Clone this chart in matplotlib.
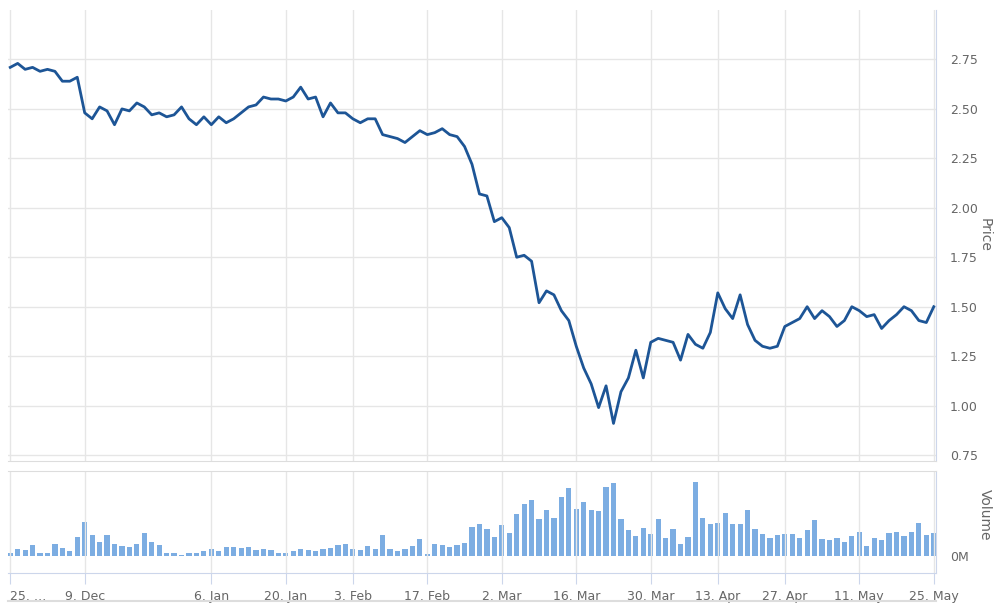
import matplotlib
matplotlib.use("Agg")
import matplotlib.pyplot as plt
import numpy as np

price = [2.71,2.73,2.70,2.71,2.69,2.70,2.69,2.64,2.64,2.66,
         2.48,2.45,2.51,2.49,2.42,2.50,2.49,2.53,2.51,2.47,
         2.48,2.46,2.47,2.51,2.45,2.42,2.46,2.42,2.46,2.43,
         2.45,2.48,2.51,2.52,2.56,2.55,2.55,2.54,2.56,2.61,
         2.55,2.56,2.46,2.53,2.48,2.48,2.45,2.43,2.45,2.45,
         2.37,2.36,2.35,2.33,2.36,2.39,2.37,2.38,2.40,2.37,
         2.36,2.31,2.22,2.07,2.06,1.93,1.95,1.90,1.75,1.76,
         1.73,1.52,1.58,1.56,1.48,1.43,1.30,1.19,1.11,0.99,
         1.10,0.91,1.07,1.14,1.28,1.14,1.32,1.34,1.33,1.32,
         1.23,1.36,1.31,1.29,1.37,1.57,1.49,1.44,1.56,1.41,
         1.33,1.30,1.29,1.30,1.40,1.42,1.44,1.50,1.44,1.48,
         1.45,1.40,1.43,1.50,1.48,1.45,1.46,1.39,1.43,1.46,
         1.50,1.48,1.43,1.42,1.50]
volume = [10,20,18,33,10,10,37,24,14,58,103,63,43,63,37,30,27,37,70,43,
          33,10,10,4,10,10,14,20,14,27,27,24,27,17,20,17,10,10,14,20,
          17,14,20,24,33,37,20,17,30,20,63,20,14,20,30,50,7,37,33,27,
          33,40,87,97,80,
          57,93,70,125,155,168,110,138,115,178,203,142,162,138,135,
          208,218,112,77,60,83,67,112,53,80,37,57,223,115,97,
          100,130,97,97,138,80,67,53,63,67,65,53,77,108,50,
          47,53,43,60,73,30,53,47,70,73,60,73,100,63,70]
tick_idx = [0,10,27,37,46,56,66,76,86,95,104,114,124]
tick_labels = ["25. …","9. Dec","6. Jan","20. Jan","3. Feb","17. Feb","2. Mar",
               "16. Mar","30. Mar","13. Apr","27. Apr","11. May","25. May"]

x = np.arange(len(price))
W, H = 1000, 612
fig = plt.figure(figsize=(10, 6.12), dpi=100)
tc = "#666666"
gc = "#e6e6e6"

def box(l, t, r, b):
    return [l / W, 1 - b / H, (r - l) / W, (b - t) / H]

ax = fig.add_axes(box(8, 10, 936, 461))
ax.plot(x, price, color="#1d5596", lw=2)
ax.set_xlim(-0.3, len(price) - 0.7)
ax.set_ylim(0.72, 3.0)
ax.set_yticks([0.75, 1.0, 1.25, 1.5, 1.75, 2.0, 2.25, 2.5, 2.75])
ax.set_yticklabels(["0.75","1.00","1.25","1.50","1.75","2.00","2.25","2.50","2.75"])
ax.yaxis.tick_right()
ax.tick_params(axis="y", length=0, labelsize=9, labelcolor=tc, pad=10)
ax.set_xticks(tick_idx)
ax.tick_params(axis="x", length=0, labelbottom=False)
ax.grid(True, color=gc, lw=1)
for s in ["top", "left"]:
    ax.spines[s].set_visible(False)
ax.spines["right"].set_color("#ccd6eb")
ax.spines["bottom"].set_color("#dddddd")
fig.text(985 / W, 1 - 235 / H, "Price", rotation=270, ha="center", va="center",
         color=tc, fontsize=10)

vx = fig.add_axes(box(8, 471, 936, 573))
vx.bar(x, volume, width=0.7, color="#7cade2")
vx.set_xlim(-0.3, len(price) - 0.7)
vx.set_ylim(-51, 255)
vx.set_yticks([0])
vx.set_yticklabels(["0M"])
vx.yaxis.tick_right()
vx.tick_params(axis="y", length=0, labelsize=9, labelcolor=tc, pad=10)
vx.set_xticks(tick_idx)
vx.set_xticklabels(tick_labels)
vx.get_xticklabels()[0].set_horizontalalignment("left")
vx.tick_params(axis="x", length=8, color="#ccd6eb", labelsize=9, labelcolor=tc, pad=4)
vx.grid(True, axis="x", color=gc, lw=1)
vx.spines["left"].set_visible(False)
vx.spines["top"].set_color("#dddddd")
vx.spines["right"].set_color("#ccd6eb")
vx.spines["bottom"].set_color("#ccd6eb")
fig.text(985 / W, 1 - 515 / H, "Volume", rotation=270, ha="center", va="center",
         color=tc, fontsize=10)
fig.add_artist(plt.Line2D([8 / W, 936 / W], [1 - 601 / H] * 2, color="#dddddd", lw=1.5))

fig.savefig("out.png", dpi=100, facecolor="white")
